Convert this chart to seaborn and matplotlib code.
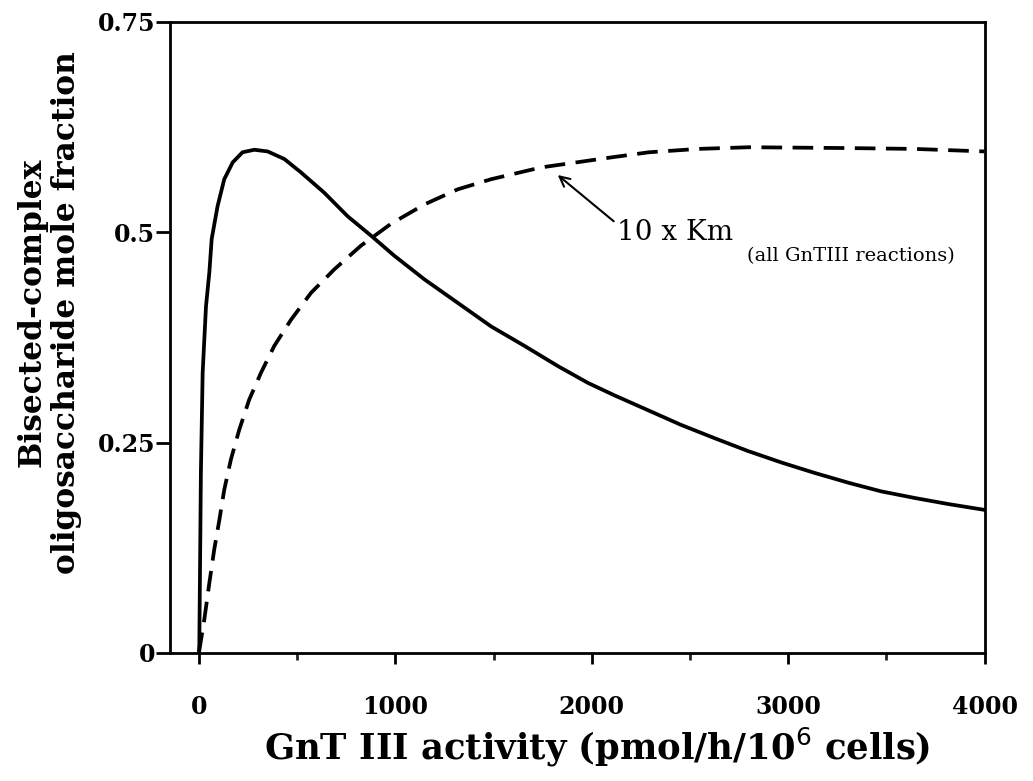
import numpy as np
import matplotlib
matplotlib.use("Agg")
import matplotlib.pyplot as plt
import pandas as pd
import seaborn as sns

# GnT III activity (pmol/h/10^6 cells) vs bisected-complex mole fraction
base_activity = [0, 2, 7, 10, 19, 36, 53, 65, 95, 129, 172, 222, 282, 350, 435, 520,
                 638, 757, 876, 995, 1148, 1318, 1488, 1657, 1827, 1980, 2117, 2291,
                 2455, 2628, 2795, 2970, 3134, 3311, 3474, 3648, 3814, 4000]
base_fraction = [0.0, 0.010, 0.135, 0.214, 0.333, 0.412, 0.452, 0.492, 0.531, 0.563,
                 0.583, 0.595, 0.598, 0.596, 0.587, 0.571, 0.547, 0.519, 0.496, 0.472,
                 0.444, 0.416, 0.388, 0.365, 0.341, 0.321, 0.306, 0.288, 0.271, 0.255,
                 0.240, 0.226, 0.214, 0.202, 0.192, 0.184, 0.177, 0.170]

# 10 x Km (all GnTIII reactions)
km10_activity = [0, 27, 53, 78, 104, 129, 163, 205, 256, 316, 384, 469, 571, 690, 825,
                 978, 1148, 1318, 1488, 1742, 2102, 2291, 2540, 2801, 3311, 3644, 4000]
km10_fraction = [0.0, 0.039, 0.083, 0.123, 0.158, 0.194, 0.230, 0.265, 0.301, 0.333,
                 0.365, 0.396, 0.428, 0.456, 0.484, 0.510, 0.533, 0.551, 0.563, 0.577,
                 0.589, 0.595, 0.599, 0.601, 0.600, 0.599, 0.596]

x_ticks = [0, 1000, 2000, 3000, 4000]
x_minor_ticks = [500, 1500, 2500, 3500]
y_ticks = [0, 0.25, 0.5, 0.75]
y_tick_labels = ["0", "0.25", "0.5", "0.75"]

sns.set_theme(style="ticks")
plt.rcParams["font.family"] = ["DejaVu Serif"]

base_df = pd.DataFrame({"activity": base_activity, "fraction": base_fraction})
km_df = pd.DataFrame({"activity": km10_activity, "fraction": km10_fraction})

fig = plt.figure(figsize=(10.33, 7.81), dpi=100)
ax = fig.add_axes([0.165, 0.164, 0.789, 0.808])

sns.lineplot(data=base_df, x="activity", y="fraction", ax=ax, color="black",
             linewidth=2.7, estimator=None, sort=False)
sns.lineplot(data=km_df, x="activity", y="fraction", ax=ax, color="black",
             linewidth=2.7, estimator=None, sort=False)
ax.lines[1].set_dashes([5.5, 2.8])
for ln in ax.lines:
    ln.set_solid_joinstyle("round")
    ln.set_dash_joinstyle("round")

ax.set_xlim(-145, 4005)
ax.set_ylim(0, 0.75)

ax.set_xticks(x_ticks)
ax.set_xticks(x_minor_ticks, minor=True)
ax.set_yticks(y_ticks)
ax.set_yticklabels(y_tick_labels)

for side in ["left", "right", "top", "bottom"]:
    ax.spines[side].set_linewidth(2.0)
    ax.spines[side].set_color("black")

ax.tick_params(axis="x", which="major", direction="out", length=8, width=2,
               pad=22, labelsize=17, colors="black")
ax.tick_params(axis="x", which="minor", direction="out", length=5, width=2)
ax.tick_params(axis="y", which="major", direction="out", length=10, width=2,
               pad=1, labelsize=17, colors="black")
for lbl in ax.get_xticklabels() + ax.get_yticklabels():
    lbl.set_fontweight("bold")

ax.set_xlabel("GnT III activity (pmol/h/10$^{6}$ cells)", fontsize=25.5,
              fontweight="bold", color="black")
ax.xaxis.set_label_coords(0.523, -0.116)
ax.set_ylabel("Bisected-complex\noligosaccharide mole fraction", fontsize=22.5,
              fontweight="bold", color="black", linespacing=1.15)
ax.yaxis.set_label_coords(-0.108, 0.54)

# annotation for the dashed curve
ax.annotate("", xy=(1827, 0.568), xytext=(2112, 0.513),
            arrowprops=dict(arrowstyle="->,head_length=0.6,head_width=0.3",
                            color="black", lw=1.5, shrinkA=0, shrinkB=0))
ax.text(2128, 0.50, "10 x Km", fontsize=20, va="center", ha="left", color="black")
ax.text(2790, 0.472, "(all GnTIII reactions)", fontsize=14, va="center",
        ha="left", color="black")

fig.savefig("out.png", dpi=100, facecolor="white")
